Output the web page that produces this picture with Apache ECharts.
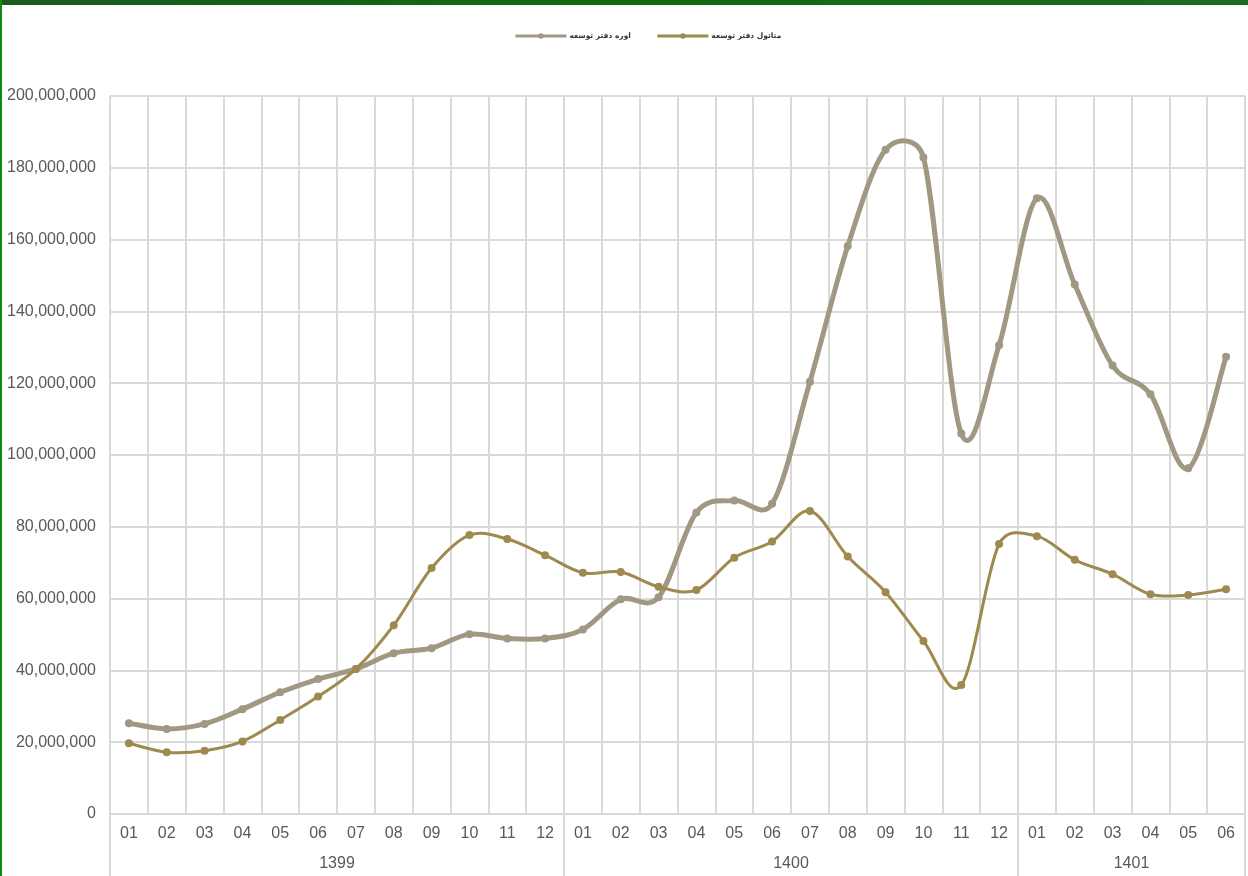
<!DOCTYPE html>
<html>
<head>
<meta charset="utf-8">
<style>
  html, body { margin: 0; padding: 0; background: #fff; }
  #wrap { position: relative; width: 1248px; height: 876px; overflow: hidden; }
  #chart { position: absolute; left: 0; top: 0; width: 1248px; height: 876px; }
  /* green frame of the sheet */
  .topbar { position: absolute; left: 0; top: 0; width: 1248px; height: 5px;
            background: linear-gradient(to right, #1b5a1e, #0f6a10 50%, #1d6a22); }
  .leftbar { position: absolute; left: 0; top: 0; width: 2px; height: 876px; background: #118a11; }
</style>
<script src="https://cdn.jsdelivr.net/npm/echarts@6/dist/echarts.min.js"></script>
</head>
<body>
<div id="wrap">
  <div id="chart"></div>
  <div class="topbar"></div>
  <div class="leftbar"></div>
</div>
<script>
// ماه ها و سال ها
const months = ["01","02","03","04","05","06","07","08","09","10","11","12",
                "01","02","03","04","05","06","07","08","09","10","11","12",
                "01","02","03","04","05","06"];
const years = ["1399","1399","1399","1399","1399","1399","1399","1399","1399","1399","1399","1399",
               "1400","1400","1400","1400","1400","1400","1400","1400","1400","1400","1400","1400",
               "1401","1401","1401","1401","1401","1401"];

// اوره دفتر توسعه
const ureaValues = [25300000, 23700000, 25100000, 29200000, 33900000, 37600000,
                    40400000, 44800000, 46200000, 50100000, 48900000, 48900000,
                    51400000, 59800000, 60400000, 84000000, 87300000, 86400000,
                    120400000, 158200000, 185000000, 182900000, 106000000, 130600000,
                    171500000, 147500000, 124900000, 116900000, 96300000, 127400000];
// متاتول دفتر توسعه
const methanolValues = [19700000, 17200000, 17600000, 20200000, 26200000, 32700000,
                        40400000, 52600000, 68500000, 77700000, 76600000, 72100000,
                        67200000, 67400000, 63300000, 62400000, 71400000, 75900000,
                        84400000, 71700000, 61800000, 48200000, 35900000, 75200000,
                        77400000, 70800000, 66800000, 61200000, 61000000, 62600000];

const yMin = 0, yMax = 200000000, yStep = 20000000;

// مرزهای گروه سال ها روی محور دوم (31 مرز برای 30 ماه)
const boundaryLabels = [];
const groupEdges = [0];
for (let i = 1; i < years.length; i++) {
  if (years[i] !== years[i - 1]) groupEdges.push(i);
}
groupEdges.push(years.length);
for (let i = 0; i <= years.length; i++) boundaryLabels.push("");
for (let g = 0; g < groupEdges.length - 1; g++) {
  const s = groupEdges[g], e = groupEdges[g + 1];
  boundaryLabels[s + (e - s) / 2] = years[s];
}

const gridColor = "#d9d9d9";
const textColor = "#595959";
const textFont = "Liberation Sans";
const ureaColor = "#a09882";
const methanolColor = "#9e8a4f";

// بردار کنترل: یک ششم فاصله همسایه ها، حداکثر نصف طول پاره خط
function handle(a, b, segA, segB) {
  let dx = (b[0] - a[0]) / 6, dy = (b[1] - a[1]) / 6;
  const len = Math.sqrt(dx * dx + dy * dy);
  const segLen = Math.sqrt(Math.pow(segB[0] - segA[0], 2) + Math.pow(segB[1] - segA[1], 2));
  if (len > segLen / 2 && len > 0) {
    dx = dx * segLen / 2 / len;
    dy = dy * segLen / 2 / len;
  }
  return [dx, dy];
}

// منحنی صاف شبیه اکسل از روی مختصات محور ها
function smoothCurve(values, color, width) {
  return function (params, api) {
    if (params.dataIndex !== 0) return null;
    const pts = values.map(function (v, i) { return api.coord([i, v]); });
    let d = "M" + pts[0][0] + " " + pts[0][1];
    for (let i = 0; i < pts.length - 1; i++) {
      const p0 = pts[Math.max(i - 1, 0)], p1 = pts[i], p2 = pts[i + 1];
      const p3 = pts[Math.min(i + 2, pts.length - 1)];
      const h1 = handle(p0, p2, p1, p2);
      const h2 = handle(p1, p3, p1, p2);
      d += " C" + (p1[0] + h1[0]) + " " + (p1[1] + h1[1]) + " " +
           (p2[0] - h2[0]) + " " + (p2[1] - h2[1]) + " " + p2[0] + " " + p2[1];
    }
    return {
      type: "path",
      shape: { pathData: d },
      style: { fill: null, stroke: color, lineWidth: width, lineJoin: "round", lineCap: "round" }
    };
  };
}

const chart = echarts.init(document.getElementById("chart"));
chart.setOption({
  animation: false,
  legend: {
    top: 27,
    left: 509,
    itemWidth: 51,
    itemHeight: 7,
    itemGap: 25,
    textStyle: { fontFamily: "DejaVu Sans", fontSize: 7.5, fontWeight: "bold", color: "#333333", padding: [0, 0, 0, -2] },
    data: [
      { name: "اوره دفتر توسعه", lineStyle: { opacity: 1, width: 3, color: ureaColor } },
      { name: "متاتول دفتر توسعه", lineStyle: { opacity: 1, width: 3, color: methanolColor } }
    ]
  },
  grid: { left: 110, right: 3, top: 96, bottom: 62, containLabel: false },
  xAxis: [
    {
      type: "category",
      position: "bottom",
      data: months,
      boundaryGap: true,
      axisLine: { show: true, lineStyle: { color: gridColor, width: 2 } },
      axisTick: { show: false },
      axisLabel: { interval: 0, margin: 12, color: textColor, fontSize: 16, fontFamily: textFont },
      splitLine: { show: true, interval: 0, lineStyle: { color: gridColor, width: 2 } }
    },
    {
      type: "category",
      position: "bottom",
      data: boundaryLabels,
      boundaryGap: false,
      axisLine: { show: false },
      axisTick: {
        show: true,
        length: 62,
        interval: function (index) { return groupEdges.indexOf(index) !== -1; },
        lineStyle: { color: gridColor, width: 2 }
      },
      axisLabel: { interval: 0, margin: 42, color: textColor, fontSize: 16, fontFamily: textFont },
      splitLine: { show: false }
    }
  ],
  yAxis: {
    type: "value",
    min: yMin,
    max: yMax,
    interval: yStep,
    axisLine: { show: false },
    axisTick: { show: false },
    axisLabel: {
      margin: 14,
      color: textColor,
      fontSize: 16,
      fontFamily: textFont,
      formatter: function (v) { return v.toLocaleString("en-US"); }
    },
    splitLine: { show: true, lineStyle: { color: gridColor, width: 2 } }
  },
  series: [
    {
      type: "custom",
      z: 2,
      silent: true,
      data: ureaValues.map(function (v, i) { return [i, v]; }),
      renderItem: smoothCurve(ureaValues, ureaColor, 5)
    },
    {
      name: "اوره دفتر توسعه",
      type: "line",
      z: 3,
      data: ureaValues,
      symbol: "circle",
      symbolSize: 8,
      lineStyle: { width: 5, color: ureaColor, opacity: 0 },
      itemStyle: { color: ureaColor }
    },
    {
      type: "custom",
      z: 4,
      silent: true,
      data: methanolValues.map(function (v, i) { return [i, v]; }),
      renderItem: smoothCurve(methanolValues, methanolColor, 3)
    },
    {
      name: "متاتول دفتر توسعه",
      type: "line",
      z: 5,
      data: methanolValues,
      symbol: "circle",
      symbolSize: 8,
      lineStyle: { width: 3, color: methanolColor, opacity: 0 },
      itemStyle: { color: methanolColor }
    }
  ]
});
</script>
</body>
</html>
